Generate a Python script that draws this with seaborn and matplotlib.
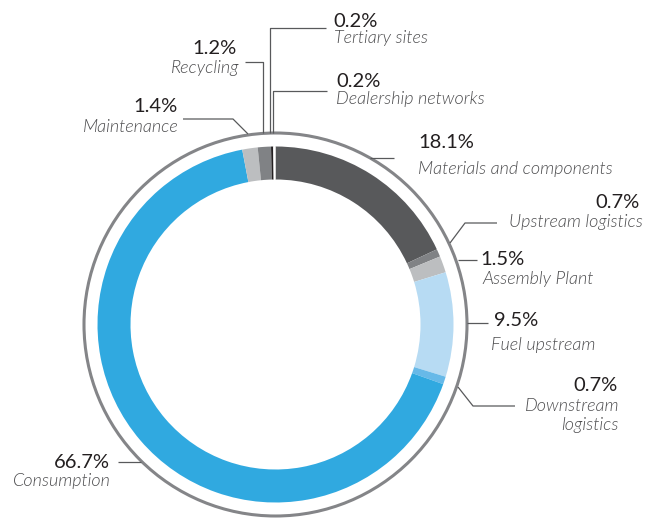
import matplotlib
matplotlib.use("Agg")
import matplotlib.pyplot as plt
from matplotlib.patches import Circle
import seaborn as sns

# ---- data ----
categories = ["Materials and components", "Upstream logistics", "Assembly Plant",
              "Fuel upstream", "Downstream logistics", "Consumption",
              "Maintenance", "Recycling", "Tertiary sites", "Dealership networks"]
values = [18.1, 0.7, 1.5, 9.5, 0.7, 66.7, 1.4, 1.2, 0.2, 0.2]
pct_labels = ["18.1%", "0.7%", "1.5%", "9.5%", "0.7%", "66.7%", "1.4%", "1.2%", "0.2%", "0.2%"]
name_labels = ["Materials and components", "Upstream logistics", "Assembly Plant",
               "Fuel upstream", "Downstream\nlogistics", "Consumption",
               "Maintenance", "Recycling", "Tertiary sites", "Dealership networks"]

# ---- style ----
colors = ["#58595b", "#808285", "#bcbec0", "#b7dbf3", "#67b9e8", "#30a9e0",
          "#bcbec0", "#808285", "#231f20", "#ffffff"]

sns.set_theme(style="white")
plt.rcParams["font.family"] = ["Lato", "DejaVu Sans"]

W, H = 645, 518
fig = plt.figure(figsize=(W / 100, H / 100), dpi=100)
ax = fig.add_axes([0, 0, 1, 1])

def P(x, y):
    return x, H - y

cx, cy = P(275.5, 324.5)
R_out, ring_w = 178, 33

ax.pie(values, colors=colors, startangle=90, counterclock=False,
       radius=R_out, center=(cx, cy),
       wedgeprops=dict(width=ring_w, linewidth=0, antialiased=True))
ax.add_patch(Circle((cx, cy), 191.5, fill=False, edgecolor="#848588", linewidth=2.2))

ax.set_xlim(0, W)
ax.set_ylim(0, H)
ax.set_aspect("equal")
ax.axis("off")

# label layout (pixel coords): pct pos, name pos, alignment, leader line
layout = {
    "Materials and components": dict(pct=(418, 148, "left"), name=(418, 174, "left"),
                                     line=[(370, 158), (394, 158)]),
    "Upstream logistics": dict(pct=(640, 208, "right"), name=(643, 227, "right"),
                               line=[(497, 223), (465, 223), (450, 243)]),
    "Assembly Plant": dict(pct=(480, 265, "left"), name=(482, 284, "left"),
                           line=[(458, 260), (477, 260)]),
    "Fuel upstream": dict(pct=(494, 326, "left"), name=(491, 350, "left"),
                          line=[(467, 323), (488, 323)]),
    "Downstream logistics": dict(pct=(618, 391, "right"), name=(619, 411, "right"),
                                 line=[(515, 406), (473, 406), (458, 387)]),
    "Consumption": dict(pct=(110, 468, "right"), name=(111, 486, "right"),
                        line=[(118, 462), (141, 462)]),
    "Maintenance": dict(pct=(178, 112, "right"), name=(179, 132, "right"),
                        line=[(183, 119), (233, 119), (248, 134)]),
    "Recycling": dict(pct=(237, 54, "right"), name=(239, 73, "right"),
                      line=[(245, 62), (263, 62), (263, 133)]),
    "Tertiary sites": dict(pct=(333, 27, "left"), name=(334, 43, "left"),
                           line=[(326, 28), (270, 28), (270, 133)]),
    "Dealership networks": dict(pct=(336, 87, "left"), name=(336, 104, "left"),
                                line=[(327, 91), (273, 91), (273, 133)]),
}

for cat, pct, name in zip(categories, pct_labels, name_labels):
    L = layout[cat]
    px, py, pha = L["pct"]
    ax.text(*P(px, py), pct, ha=pha, va="baseline", fontsize=14.5,
            color="#231f20")
    nx, ny, nha = L["name"]
    lines = name.split("\n")
    for i, t in enumerate(lines):
        ax.text(*P(nx, ny + 19 * i), t, ha=nha, va="baseline", fontsize=13,
                style="italic", fontweight=300, color="#4d4d4f")
    xs, ys = zip(*[P(x, y) for x, y in L["line"]])
    ax.plot(xs, ys, color="#58595b", linewidth=0.9, solid_capstyle="butt")

fig.savefig("out.png", dpi=100)
